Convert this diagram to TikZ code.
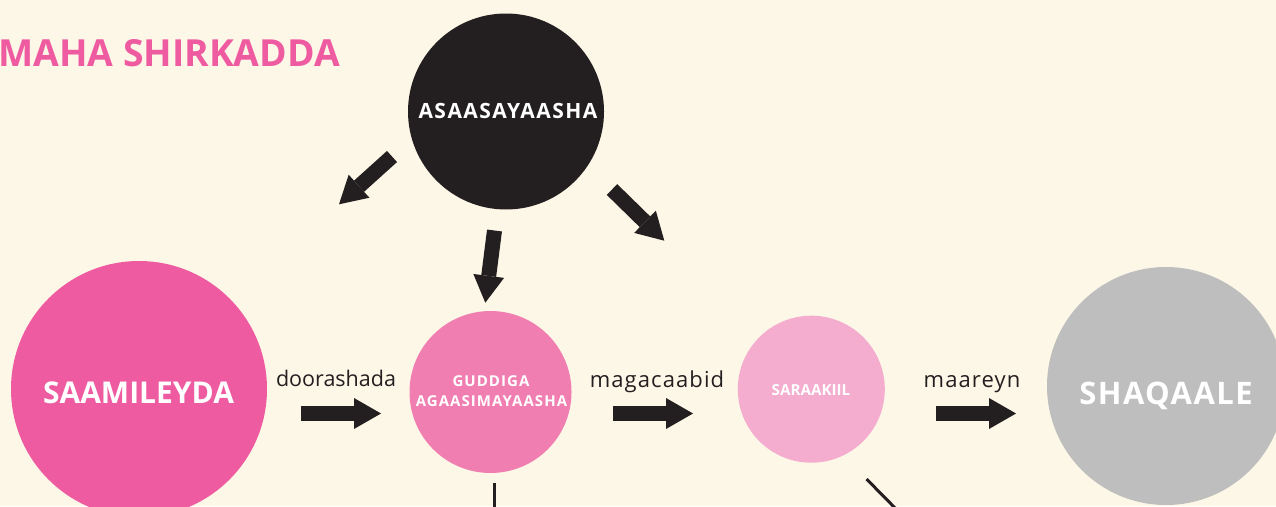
\documentclass[tikz,border=0pt]{standalone}
\usepackage{fontspec}
\setmainfont{Open Sans}
\usetikzlibrary{arrows.meta}
\definecolor{bg}{HTML}{FDF7E7}
\definecolor{ink}{HTML}{231F20}
\definecolor{pinkA}{HTML}{EE5BA1}
\definecolor{pinkB}{HTML}{F07EB0}
\definecolor{pinkC}{HTML}{F4ADCF}
\definecolor{greyA}{HTML}{BEBEBE}
\newcommand{\trk}[1]{\addfontfeature{LetterSpace=#1}}
\begin{document}
\begin{tikzpicture}[x=1pt,y=-1pt,
  bubble/.style={circle,inner sep=0pt,minimum size=#1},
  lab/.style={anchor=base,inner sep=0pt,text=white,font=\bfseries},
  verb/.style={anchor=base,inner sep=0pt,text=ink,font=\fontsize{20}{24}\selectfont},
  blockarrow/.style={draw=ink,line width=15pt,line cap=butt,-{Triangle[length=27pt,width=31pt,line width=0pt]}},
  thinline/.style={draw=ink,line width=2.6pt}]
\useasboundingbox (0,0) rectangle (1276,506);
\clip (0,0) rectangle (1276,506);
\fill[bg] (0,0) rectangle (1276,506);
% title
\node[anchor=base west,inner sep=0pt,text=pinkA,font=\bfseries\fontsize{37.3}{42}\selectfont] (title) at (-2,66.7) {MAHA SHIRKADDA};
% circles
\node[bubble=196pt,fill=ink] (top) at (506,111.5) {};
\node[bubble=256pt,fill=pinkA] (saam) at (139,389) {};
\node[bubble=162pt,fill=pinkB] (gudd) at (490.5,392) {};
\node[bubble=147pt,fill=pinkC] (sara) at (811.3,389.2) {};
\node[bubble=238pt,fill=greyA] (shaq) at (1166,386) {};
% circle labels
\node[lab,font=\bfseries\fontsize{21}{22}\selectfont\trk{7}] (ltop) at (508,118.3) {ASAASAYAASHA};
\node[lab,font=\bfseries\fontsize{30}{32}\selectfont] (lsaam) at (138.5,403) {SAAMILEYDA};
\node[lab,font=\bfseries\fontsize{31}{34}\selectfont\trk{4.6}] (lshaq) at (1166,404) {SHAQAALE};
\node[lab,font=\bfseries\fontsize{15}{16}\selectfont\trk{7}] (lgudd1) at (491,386.7) {GUDDIGA};
\node[lab,font=\bfseries\fontsize{15}{16}\selectfont\trk{7}] (lgudd2) at (491.5,406) {AGAASIMAYAASHA};
\node[lab,font=\bfseries\fontsize{15.2}{16}\selectfont] (lsara) at (811,395) {SARAAKIIL};
% verb labels
\node[verb,font=\fontsize{21.5}{24}\selectfont] (v1) at (336,386) {doorashada};
\node[verb,font=\fontsize{22}{24}\selectfont\trk{5}] (v2) at (657,387) {magacaabid};
\node[verb,font=\fontsize{22}{24}\selectfont\trk{5}] (v3) at (972,387) {maareyn};
% arrow end points
\coordinate (h1t) at (301,413.5); \coordinate (h1h) at (381,413.5);
\coordinate (h2t) at (613,413.5); \coordinate (h2h) at (693,413.5);
\coordinate (h3t) at (936,413.5); \coordinate (h3h) at (1016,413.5);
\coordinate (d1t) at (392,156.5); \coordinate (d1h) at (339,204.3);
\coordinate (d2t) at (494.5,230.5); \coordinate (d2h) at (485.3,302.7);
\coordinate (d3t) at (612,189.5); \coordinate (d3h) at (664.3,240.7);
\draw[blockarrow] (h1t) -- (h1h);
\draw[blockarrow] (h2t) -- (h2h);
\draw[blockarrow] (h3t) -- (h3h);
\draw[blockarrow] (d1t) -- (d1h);
\draw[blockarrow] (d2t) -- (d2h);
\draw[blockarrow] (d3t) -- (d3h);
% lines leaving the bottom
\coordinate (l1a) at (494.5,483); \coordinate (l1b) at (494.5,512);
\coordinate (l2a) at (866.5,479); \coordinate (l2b) at (899,512);
\draw[thinline] (l1a) -- (l1b);
\draw[thinline,line width=3pt] (l2a) -- (l2b);
\end{tikzpicture}
\end{document}
